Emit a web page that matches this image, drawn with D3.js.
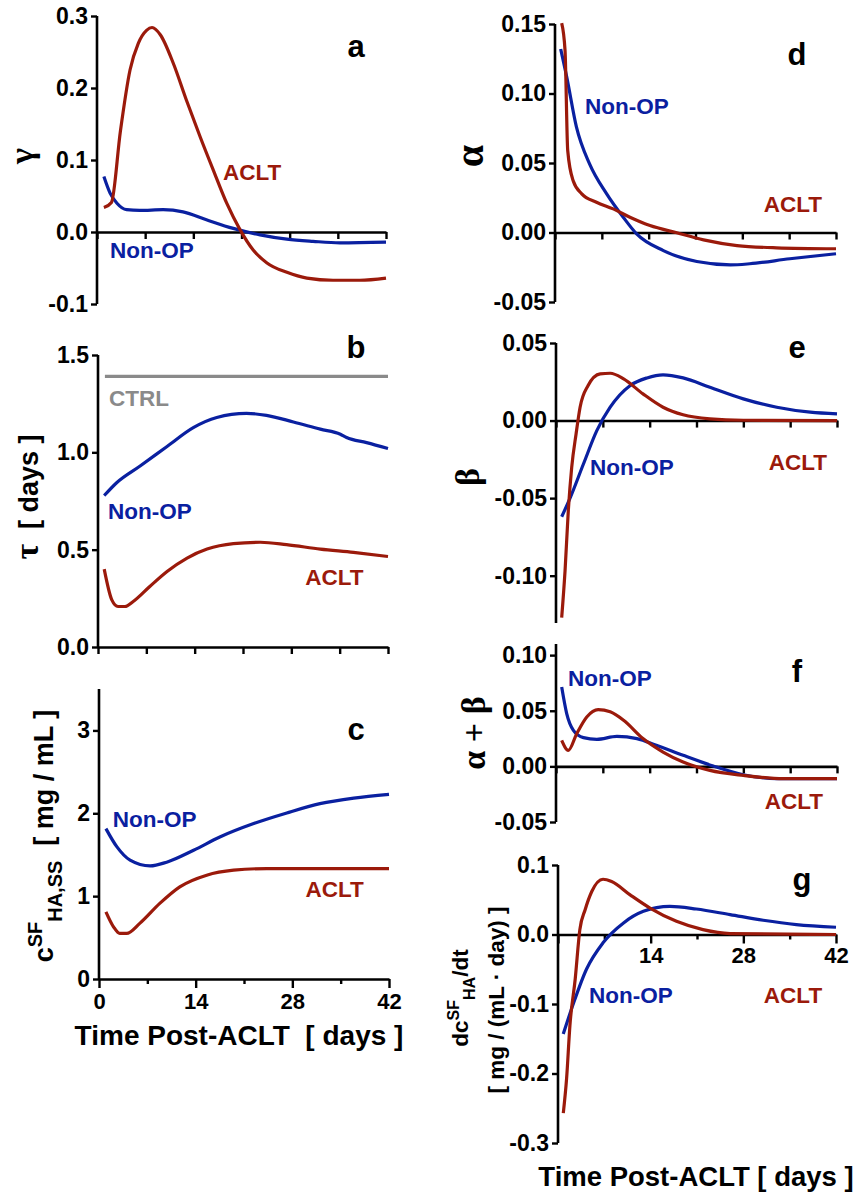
<!DOCTYPE html>
<html>
<head>
<meta charset="utf-8">
<script src="https://cdn.jsdelivr.net/npm/d3@7"></script>
<style>
  body{margin:0;background:#fff;}
  text{font-family:"Liberation Sans",Arial,sans-serif;font-weight:bold;}
  .greek{font-family:"Liberation Serif","Times New Roman",serif;font-weight:bold;}
</style>
</head>
<body>
<svg id="fig" width="857" height="1194"></svg>
<script>
// data: [day, value]

var xTicks=[0,7,14,21,28,35,42];

var gammaAclt=[[1,0.034],[2.1,0.041],[3.4,0.14],[4.8,0.225],[6,0.262],[7.2,0.28],[8,0.284],[9.2,0.274],[11.1,0.234],[13,0.183],[15,0.132],[16.9,0.086],[18.85,0.04],[20.8,0.003],[22.7,-0.025],[24.7,-0.043],[27.6,-0.056],[30.5,-0.064],[34.3,-0.067],[38.2,-0.067],[42,-0.064]];
var gammaNonop=[[1,0.077],[1.9,0.054],[2.9,0.04],[4.3,0.031],[6.2,0.030],[9.6,0.031],[12.5,0.028],[15.9,0.017],[19.8,0.005],[23.7,-0.004],[27.6,-0.010],[31.4,-0.013],[35.3,-0.015],[42,-0.014]];

var tauCtrl=[[1,1.39],[42,1.39]];
var tauNonop=[[0.9,0.778],[2.7,0.844],[6.1,0.93],[10,1.03],[13.8,1.127],[17.2,1.179],[21.5,1.2],[24.4,1.19],[28.3,1.156],[32.2,1.119],[35.1,1.093],[36,1.076],[38.9,1.05],[42,1.02]];
var tauAclt=[[0.9,0.40],[2,0.242],[2.9,0.208],[3.9,0.208],[5.1,0.234],[7.5,0.311],[10,0.388],[12.9,0.457],[15.8,0.503],[19.6,0.531],[23.5,0.538],[27.3,0.526],[32.2,0.503],[37,0.486],[42,0.465]];

var cssNonop=[[1,1.815],[2.6,1.594],[4.5,1.434],[7.4,1.365],[9.8,1.41],[13.7,1.554],[17.5,1.714],[22.4,1.876],[27.2,2.004],[32,2.116],[36.9,2.184],[42,2.229]];
var cssAclt=[[1,0.811],[2.1,0.63],[3,0.55],[4,0.55],[5.9,0.671],[8.8,0.912],[11.7,1.112],[15.6,1.253],[19.5,1.313],[24.3,1.333],[42,1.333]];

var alphaNonop=[[0.85,0.132],[1.75,0.112],[3.2,0.076],[5.2,0.049],[7.7,0.028],[10.2,0.011],[12.2,-0.001],[16.2,-0.013],[21.2,-0.0209],[26.2,-0.0233],[29.1,-0.0225],[35.1,-0.0189],[42,-0.0153]];
var alphaAclt=[[1,0.1506],[1.5,0.131],[1.9,0.059],[2.7,0.0374],[4,0.0278],[6.2,0.0218],[8.7,0.017],[11.2,0.011],[14.2,0.005],[18.2,-0.0002],[22.2,-0.0053],[27.2,-0.0094],[33.1,-0.011],[42,-0.0117]];

var betaNonop=[[0.85,-0.062],[2.1,-0.05],[4.1,-0.028],[6.1,-0.0065],[8.1,0.0086],[11.1,0.0226],[13.6,0.0275],[16,0.0295],[19,0.0275],[23,0.0215],[28,0.014],[33,0.0086],[38,0.0054],[42,0.0043]];
var betaAclt=[[0.85,-0.127],[1.35,-0.097],[1.84,-0.058],[2.35,-0.030],[3,-0.0086],[3.6,0.0086],[4.8,0.0226],[6.6,0.0301],[8.1,0.0305],[10.1,0.0269],[13,0.0172],[16,0.0086],[19,0.0037],[23,0.0011],[28,0.0002],[42,0]];

var sumNonop=[[0.85,0.0714],[1.6,0.0475],[2.6,0.0324],[4.1,0.0258],[6.1,0.0243],[9.1,0.027],[12.1,0.025],[15,0.019],[19,0.0099],[23.5,0.0003],[28,-0.0075],[33,-0.011],[42,-0.011]];
var sumAclt=[[0.85,0.0234],[1.84,0.0144],[3.1,0.0294],[4.6,0.0444],[6.3,0.051],[8.1,0.049],[10.1,0.0414],[13,0.025],[16,0.0129],[19,0.0039],[23,-0.0036],[28,-0.0081],[34,-0.011],[42,-0.011]];

var dcdtNonop=[[0.8,-0.143],[2.3,-0.1],[4.3,-0.05],[6.8,-0.012],[9.9,0.0167],[12.9,0.0333],[16.9,0.0405],[20.9,0.0367],[26,0.0286],[31,0.0205],[36,0.0143],[42,0.0104]];
var dcdtAclt=[[0.8,-0.257],[1.3,-0.207],[1.8,-0.131],[2.6,-0.064],[3.3,0.007],[4.1,0.0357],[5.1,0.0619],[6.8,0.0795],[8.1,0.0762],[10.9,0.057],[13.9,0.038],[17.9,0.019],[21.9,0.007],[26,0.0014],[42,0]];

var RED='#9b1a0b', BLUE='#0a20a0', GREY='#8a8a8a';

var svg=d3.select('#fig');

// plain hyphen for negatives, as in the original figure
function fmt(spec){
  var f=d3.format(spec);
  return function(d){return f(d).replace('\u2212','-');};
}

// draws one panel: axes, curves, inline labels
function panel(p){
  var x=d3.scaleLinear().domain([0,42]).range([p.left,p.right]);
  var y=d3.scaleLinear().domain(p.yDomain).range([p.bottom,p.top]);
  var g=svg.append('g');

  // y axis
  var ya=g.append('g').attr('transform','translate('+p.left+',0)')
    .call(d3.axisLeft(y).tickValues(p.yTicks).tickFormat(fmt(p.yFmt)).tickSize(6).tickSizeOuter(0).tickPadding(3));
  ya.select('.domain').attr('stroke','#000').attr('stroke-width',2.6).attr('d','M0,'+p.top+'V'+p.bottom);
  ya.selectAll('.tick line').attr('stroke','#000').attr('stroke-width',2.4);
  ya.selectAll('.tick text').attr('font-size',23).attr('fill','#000').attr('font-family','"Liberation Sans",Arial,sans-serif').attr('font-weight','bold');

  // x axis, sitting at y=0 of the panel
  var xa=g.append('g').attr('transform','translate(0,'+y(0)+')')
    .call(d3.axisBottom(x).tickValues(xTicks).tickSize(p.major||7).tickSizeOuter(0).tickPadding(p.pad||5)
      .tickFormat(function(d){return p.xLabels&&p.xLabels.indexOf(d)>=0?d:'';}));
  xa.select('.domain').attr('stroke','#000').attr('stroke-width',2.6);
  xa.selectAll('.tick line').attr('stroke','#000').attr('stroke-width',2.4)
    .attr('y2',function(d){return (p.major&&d%14!==0)?5:(p.major||7);});
  xa.selectAll('.tick text').attr('font-size',22).attr('fill','#000').attr('font-family','"Liberation Sans",Arial,sans-serif').attr('font-weight','bold');

  var line=d3.line().x(function(d){return x(d[0]);}).y(function(d){return y(d[1]);}).curve(d3.curveMonotoneX);
  p.series.forEach(function(s){
    g.append('path').datum(s.data).attr('d',line)
      .attr('fill','none').attr('stroke',s.color).attr('stroke-width',3.2).attr('stroke-linejoin','round');
  });
  p.labels.forEach(function(l){
    g.append('text').attr('x',x(l[1])).attr('y',y(l[2])).attr('fill',l[3]).attr('font-size',22.5).text(l[0]);
  });

  // panel letter
  g.append('text').attr('x',p.letter[1]).attr('y',p.letter[2]).attr('text-anchor','middle')
    .attr('font-size',31).text(p.letter[0]);
  return g;
}

panel({left:97,right:386,top:16,bottom:304,yDomain:[-0.1,0.3],yTicks:[-0.1,0,0.1,0.2,0.3],yFmt:'.1f',
  series:[{data:gammaNonop,color:BLUE},{data:gammaAclt,color:RED}],
  labels:[['ACLT',18.3,0.072,RED],['Non-OP',1.9,-0.036,BLUE]],letter:['a',356,57]});

panel({left:98,right:388,top:355,bottom:647,yDomain:[0,1.5],yTicks:[0,0.5,1,1.5],yFmt:'.1f',
  series:[{data:tauCtrl,color:GREY},{data:tauNonop,color:BLUE},{data:tauAclt,color:RED}],
  labels:[['CTRL',1.6,1.237,GREY],['Non-OP',1.45,0.66,BLUE],['ACLT',30,0.32,RED]],letter:['b',356,358]});

panel({left:99,right:389,top:689,bottom:979,yDomain:[0,3.5],yTicks:[0,1,2,3],yFmt:'d',major:9,pad:5,xLabels:[0,14,28,42],
  series:[{data:cssNonop,color:BLUE},{data:cssAclt,color:RED}],
  labels:[['Non-OP',2,1.84,BLUE],['ACLT',29.9,0.99,RED]],letter:['c',356,740]});

panel({left:555,right:836,top:24,bottom:302,yDomain:[-0.05,0.15],yTicks:[-0.05,0,0.05,0.1,0.15],yFmt:'.2f',
  series:[{data:alphaNonop,color:BLUE},{data:alphaAclt,color:RED}],
  labels:[['Non-OP',4.5,0.0856,BLUE],['ACLT',31.2,0.0144,RED]],letter:['d',797,65]});

panel({left:556,right:837,top:343,bottom:623,yDomain:[-0.1305,0.05],yTicks:[-0.1,-0.05,0,0.05],yFmt:'.2f',
  series:[{data:betaNonop,color:BLUE},{data:betaAclt,color:RED}],
  labels:[['Non-OP',5.1,-0.0348,BLUE],['ACLT',31.8,-0.0316,RED]],letter:['e',797,358]});

panel({left:556,right:837,top:644,bottom:822,yDomain:[-0.05,0.11],yTicks:[-0.05,0,0.05,0.1],yFmt:'.2f',
  series:[{data:sumNonop,color:BLUE},{data:sumAclt,color:RED}],
  labels:[['Non-OP',1.8,0.0719,BLUE],['ACLT',31.2,-0.0386,RED]],letter:['f',797,682]});

panel({left:558,right:836,top:865,bottom:1143,yDomain:[-0.3,0.1],yTicks:[-0.3,-0.2,-0.1,0,0.1],yFmt:'.1f',major:9,pad:4,xLabels:[14,28,42],
  series:[{data:dcdtNonop,color:BLUE},{data:dcdtAclt,color:RED}],
  labels:[['Non-OP',4.7,-0.098,BLUE],['ACLT',31.1,-0.098,RED]],letter:['g',802,890]});

// axis titles
function vtext(x,y){
  return svg.append('text').attr('transform','translate('+x+','+y+') rotate(-90)').attr('text-anchor','middle');
}
vtext(33,156).attr('class','greek').attr('font-size',34).text('γ');

var tb=vtext(38,497).attr('font-size',27).style('white-space','pre');
tb.append('tspan').attr('class','greek').attr('font-size',34).text('τ');
tb.append('tspan').text('  [ days ]');

var tc=vtext(53,836).attr('font-size',27).style('white-space','pre');
tc.append('tspan').text('c');
tc.append('tspan').attr('font-size',20).attr('dy',-11).text('SF');
tc.append('tspan').attr('font-size',20).attr('dy',20).text('HA,SS');
tc.append('tspan').attr('dy',-9).text('  [ mg / mL ]');

vtext(483,156).attr('class','greek').attr('font-size',40).text('α');
vtext(479,477).attr('class','greek').attr('font-size',34).text('β');
vtext(485,733).attr('class','greek').attr('font-size',34).text('α + β');

var tg=vtext(468,998).attr('font-size',22.5);
tg.append('tspan').text('dc');
tg.append('tspan').attr('font-size',16).attr('dy',-9).text('SF');
tg.append('tspan').attr('font-size',16).attr('dy',16).text('HA');
tg.append('tspan').attr('dy',-7).text('/dt');
vtext(504,1000).attr('font-size',22.5).text('[ mg / (mL · day) ]');

svg.append('text').attr('x',239).attr('y',1045).attr('text-anchor','middle').attr('font-size',28)
  .style('white-space','pre').text('Time Post-ACLT  [ days ]');
svg.append('text').attr('x',696).attr('y',1186).attr('text-anchor','middle').attr('font-size',27.5)
  .text('Time Post-ACLT [ days ]');
</script>
</body>
</html>
